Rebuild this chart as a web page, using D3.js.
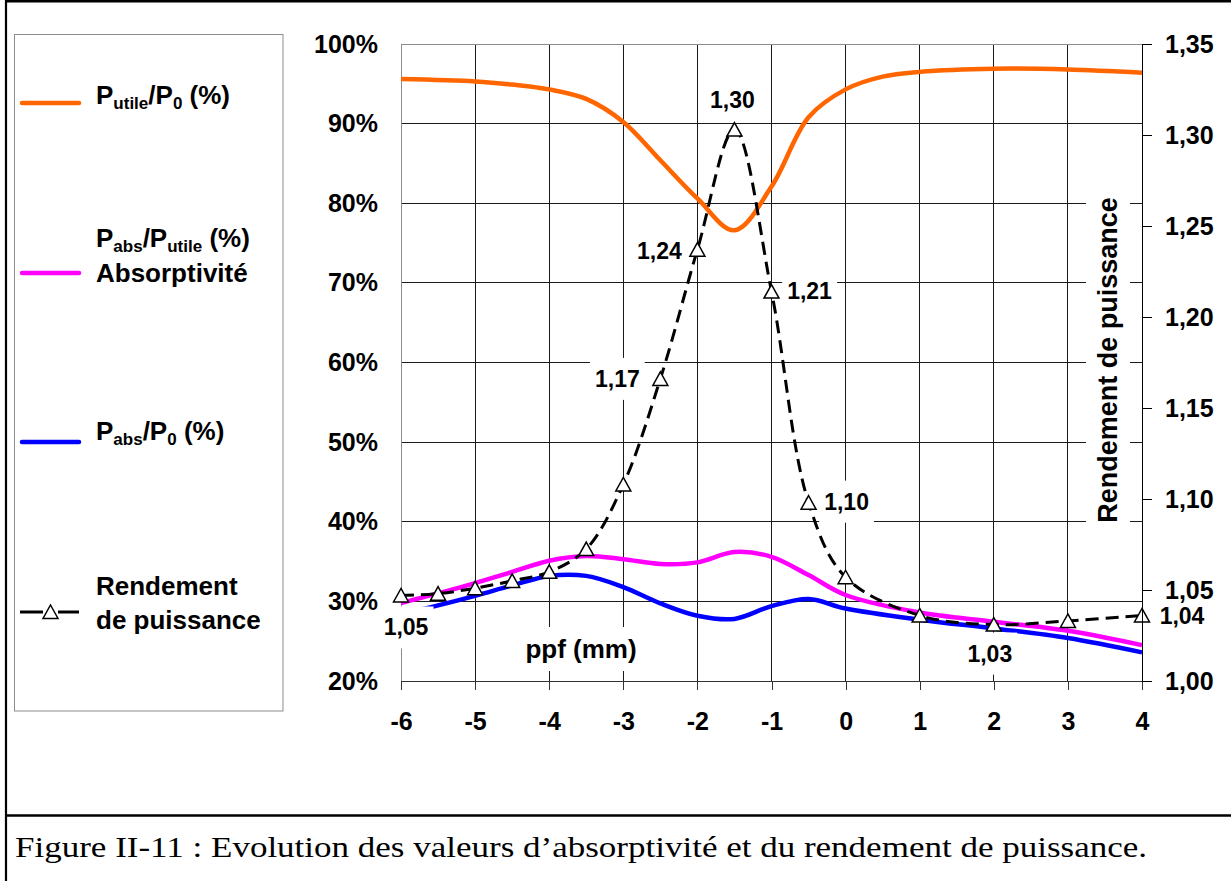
<!DOCTYPE html>
<html>
<head>
<meta charset="utf-8">
<script src="https://cdn.jsdelivr.net/npm/d3@7"></script>
<style>
  html, body { margin: 0; padding: 0; background: #fff; }
  svg { display: block; }
</style>
</head>
<body>
<svg id="chart" width="1231" height="881"></svg>
<script>
// ---- data -------------------------------------------------------------
// ppf positions (mm) where the absorption curves and the power yield were measured
const ppf = [-6, -5.5, -5, -4.5, -4, -3.5, -3, -2.5, -2, -1.5, -1, -0.5, 0, 1, 2, 3, 4];
// Putile/P0 (%) is sampled on its own grid
const putileX = [-6, -5, -4.5, -4, -3.5, -3, -2.5, -2, -1.5, -1, -0.5, 0, 0.5, 1, 2, 3, 4];
const putile = [95.6, 95.3, 94.9, 94.3, 93.1, 90.2, 85.4, 80.6, 76.6, 82.1, 90.8, 94.3, 95.9, 96.5, 96.9, 96.8, 96.4];
// Pabs/Putile (%) : absorptivité
const absorptivite = [29.8, 31.0, 32.3, 33.7, 35.1, 35.7, 35.3, 34.7, 34.9, 36.2, 35.6, 33.3, 30.8, 28.6, 27.45, 26.3, 24.5];
// Pabs/P0 (%)
const pabsP0 = [28.4, 29.5, 30.7, 32.0, 33.2, 33.2, 31.8, 29.75, 28.2, 27.8, 29.4, 30.3, 29.1, 27.7, 26.6, 25.4, 23.6];
// Rendement de puissance (right axis)
const rendement = [1.047, 1.048, 1.051, 1.055, 1.060, 1.0725, 1.108, 1.166, 1.237, 1.303, 1.214, 1.098, 1.057, 1.036, 1.031, 1.033, 1.036];
// points of the yield curve that carry a value label
const labelledPpf = [-6, -2.5, -2, -1.5, -1, -0.5, 2, 4];

// axis ticks
const xTicks = [-6, -5, -4, -3, -2, -1, 0, 1, 2, 3, 4];
const pctTicks = [20, 30, 40, 50, 60, 70, 80, 90, 100];
const rendTicks = [1.00, 1.05, 1.10, 1.15, 1.20, 1.25, 1.30, 1.35];

// ---- layout & styles --------------------------------------------------
const plot = { left: 401, right: 1142, top: 44, bottom: 681 };
const COLORS = { putile: "#FF6600", abs: "#FF00FF", pabs: "#0000FF", rend: "#000000" };
const SANS = "'Liberation Sans', Arial, Helvetica, sans-serif";
const SERIF = "'Liberation Serif', 'Times New Roman', Times, serif";
// label offsets (dx, dy of the text baseline) relative to each labelled marker
const labelOffsets = {
  "-6": [5, 40], "-2.5": [-43, 8], "-2": [-38, 9], "-1.5": [-2, -22],
  "-1": [38, 7], "-0.5": [38, 7], "2": [-4, 37], "4": [40, 9]
};

const svg = d3.select("#chart");
const fmtComma = d => d.toFixed(2).replace(".", ",");

const x = d3.scaleLinear().domain([-6, 4]).range([plot.left, plot.right]);
const yL = d3.scaleLinear().domain([20, 100]).range([plot.bottom, plot.top]);
const yR = d3.scaleLinear().domain([1.0, 1.35]).range([plot.bottom, plot.top]);

// ---- frame --------------------------------------------------------------
svg.append("rect").attr("width", 1231).attr("height", 881).attr("fill", "#fff");
svg.append("line").attr("x1", 5).attr("x2", 1231).attr("y1", 1.3).attr("y2", 1.3)
  .attr("stroke", "#000").attr("stroke-width", 2.6);
svg.append("line").attr("x1", 6).attr("x2", 6).attr("y1", 0).attr("y2", 881)
  .attr("stroke", "#000").attr("stroke-width", 2.2);
svg.append("line").attr("x1", 5).attr("x2", 1231).attr("y1", 815.5).attr("y2", 815.5)
  .attr("stroke", "#000").attr("stroke-width", 2.6);

// ---- gridlines ----------------------------------------------------------
const grid = svg.append("g").attr("shape-rendering", "crispEdges");
grid.selectAll("line.v").data(xTicks.filter(d => d > -6 && d < 4)).join("line")
  .attr("class", "v")
  .attr("x1", d => x(d)).attr("x2", d => x(d))
  .attr("y1", plot.top).attr("y2", plot.bottom)
  .attr("stroke", "#1a1a1a").attr("stroke-width", 1);
grid.selectAll("line.h").data(pctTicks.filter(d => d > 20 && d < 100)).join("line")
  .attr("class", "h")
  .attr("x1", plot.left).attr("x2", plot.right)
  .attr("y1", d => yL(d)).attr("y2", d => yL(d))
  .attr("stroke", "#1a1a1a").attr("stroke-width", 1);
// top border of the plot area
grid.append("line").attr("x1", plot.left).attr("x2", plot.right)
  .attr("y1", plot.top).attr("y2", plot.top).attr("stroke", "#8c8c8c");

// ---- axes (left and bottom) ----------------------------------------------
function styleAxis(g, size) {
  g.attr("font-family", SANS).attr("font-size", size).attr("font-weight", "bold");
  g.selectAll("text").attr("fill", "#000");
}
const axL = svg.append("g").attr("transform", `translate(${plot.left},0)`)
  .call(d3.axisLeft(yL).tickValues(pctTicks).tickSize(0).tickPadding(23)
    .tickFormat(d => d + "%"));
styleAxis(axL, 25);
axL.select(".domain").attr("stroke", "#8c8c8c").attr("shape-rendering", "crispEdges");

const axB = svg.append("g").attr("transform", `translate(0,${plot.bottom})`)
  .call(d3.axisBottom(x).tickValues(xTicks).tickSize(9).tickPadding(22).tickSizeOuter(0)
    .tickFormat(d => String(d)));
styleAxis(axB, 25);
axB.selectAll("line, .domain").attr("stroke", "#333").attr("shape-rendering", "crispEdges");

// ---- series -------------------------------------------------------------
const curve = d3.curveCatmullRom.alpha(0.5);
function drawLine(xs, ys, yScale, color, width, dash) {
  const pts = xs.map((d, i) => [d, ys[i]]);
  const path = svg.append("path").datum(pts)
    .attr("fill", "none").attr("stroke", color).attr("stroke-width", width)
    .attr("stroke-linejoin", "round")
    .attr("d", d3.line().x(d => x(d[0])).y(d => yScale(d[1])).curve(curve));
  if (dash) path.attr("stroke-dasharray", dash);
  return path;
}
drawLine(putileX, putile, yL, COLORS.putile, 4.5);
drawLine(ppf, absorptivite, yL, COLORS.abs, 4.5);
drawLine(ppf, pabsP0, yL, COLORS.pabs, 4.5);
drawLine(ppf, rendement, yR, COLORS.rend, 3, "13,7");

// open triangle markers
const triPath = "M0,-7L7.5,6.5L-7.5,6.5Z";
svg.append("g").selectAll("path").data(ppf.map((d, i) => [d, rendement[i]])).join("path")
  .attr("d", triPath)
  .attr("transform", d => `translate(${x(d[0])},${yR(d[1])})`)
  .attr("fill", "#fff").attr("stroke", "#000").attr("stroke-width", 1.5);

// ---- text with white background boxes ----------------------------------
function boxedText(parent, tx, ty, txt, size, padX, padY, rotate) {
  const g = parent.append("g").attr("transform",
    `translate(${tx},${ty})` + (rotate ? ` rotate(${rotate})` : ""));
  const bg = g.append("rect").attr("fill", "#fff");
  const t = g.append("text").attr("text-anchor", "middle")
    .attr("font-family", SANS).attr("font-weight", "bold").attr("font-size", size)
    .attr("fill", "#000").text(txt);
  const b = t.node().getBBox();
  bg.attr("x", b.x - padX).attr("y", b.y - padY)
    .attr("width", b.width + 2 * padX).attr("height", b.height + 2 * padY);
  return g;
}

const labels = svg.append("g");
labelledPpf.forEach(p => {
  const i = ppf.indexOf(p);
  const off = labelOffsets[String(p)];
  boxedText(labels, x(p) + off[0], yR(rendement[i]) + off[1], fmtComma(rendement[i]), 23, 5, 8);
});

// axis titles
boxedText(svg, 581, 658, "ppf (mm)", 26, 5, 7);
boxedText(svg, 1117, 360, "Rendement de puissance", 27, 10, 7, -90);

// ---- right axis (drawn over the value labels) ---------------------------
const axR = svg.append("g").attr("transform", `translate(${plot.right},0)`)
  .call(d3.axisRight(yR).tickValues(rendTicks).tickSize(10).tickPadding(13).tickSizeOuter(0)
    .tickFormat(fmtComma));
styleAxis(axR, 25);
axR.selectAll("line, .domain").attr("stroke", "#000").attr("shape-rendering", "crispEdges");

// ---- legend ------------------------------------------------------------
const leg = svg.append("g");
leg.append("rect").attr("x", 14.5).attr("y", 34.5).attr("width", 268.5).attr("height", 676.5)
  .attr("fill", "#fff").attr("stroke", "#8c8c8c").attr("stroke-width", 1);

const legendItems = [
  { color: COLORS.putile, lineY: 103, lines: [[103.5, [["P"], ["utile", true], ["/P"], ["0", true], [" (%)"]]]] },
  { color: COLORS.abs, lineY: 273, lines: [[247, [["P"], ["abs", true], ["/P"], ["utile", true], [" (%)"]]], [281.5, [["Absorptivité"]]]] },
  { color: COLORS.pabs, lineY: 442, lines: [[440, [["P"], ["abs", true], ["/P"], ["0", true], [" (%)"]]]] },
  { color: COLORS.rend, lineY: 612, marker: true, lines: [[595, [["Rendement"]]], [628.5, [["de puissance"]]]] }
];

legendItems.forEach(item => {
  if (item.marker) {
    leg.append("line").attr("x1", 20).attr("x2", 43).attr("y1", item.lineY).attr("y2", item.lineY)
      .attr("stroke", item.color).attr("stroke-width", 3);
    leg.append("line").attr("x1", 58).attr("x2", 79).attr("y1", item.lineY).attr("y2", item.lineY)
      .attr("stroke", item.color).attr("stroke-width", 3);
    leg.append("path").attr("d", triPath)
      .attr("transform", `translate(50.5,${item.lineY})`)
      .attr("fill", "#fff").attr("stroke", "#000").attr("stroke-width", 1.5);
  } else {
    leg.append("line").attr("x1", 22).attr("x2", 79).attr("y1", item.lineY).attr("y2", item.lineY)
      .attr("stroke", item.color).attr("stroke-width", 4.5).attr("stroke-linecap", "round");
  }
  item.lines.forEach(([ly, parts]) => {
    const t = leg.append("text").attr("x", 96).attr("y", ly)
      .attr("font-family", SANS).attr("font-weight", "bold").attr("font-size", 26).attr("fill", "#000");
    let shifted = false;
    parts.forEach(([s, sub]) => {
      const ts = t.append("tspan").text(s);
      if (sub && !shifted) { ts.attr("font-size", 17).attr("dy", 5); shifted = true; }
      else if (sub && shifted) { ts.attr("font-size", 17); }
      else if (!sub && shifted) { ts.attr("dy", -5); shifted = false; }
    });
  });
});

// ---- caption -----------------------------------------------------------
svg.append("text").attr("x", 15).attr("y", 857)
  .attr("font-family", SERIF).attr("font-size", 30).attr("fill", "#000")
  .attr("textLength", 1132).attr("lengthAdjust", "spacingAndGlyphs")
  .text("Figure II-11 : Evolution des valeurs d\u2019absorptivité et du rendement de puissance.");
</script>
</body>
</html>
